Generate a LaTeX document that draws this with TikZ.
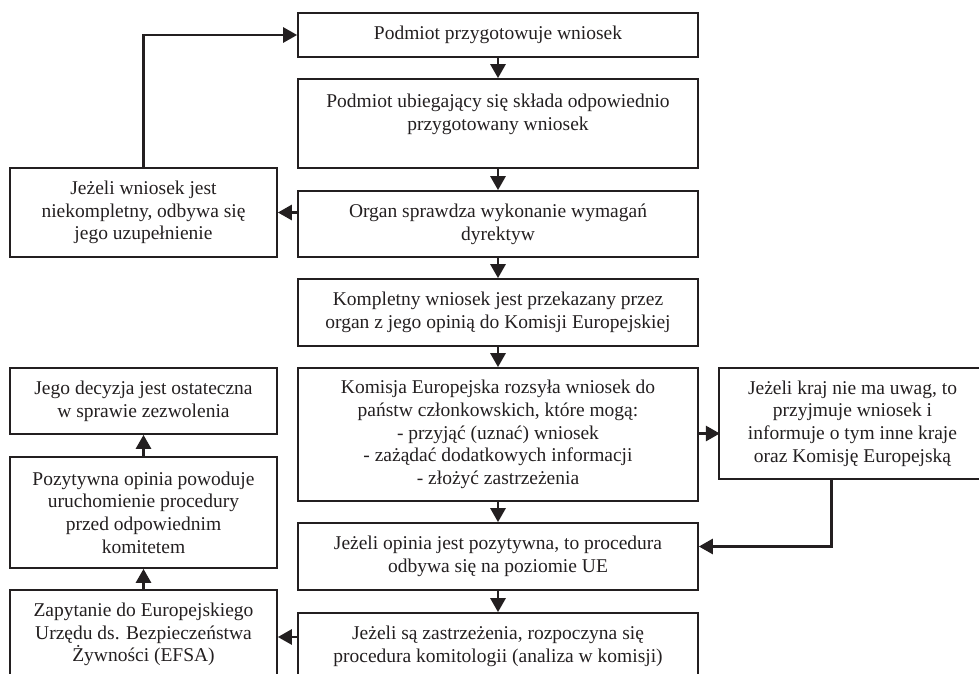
\documentclass[tikz,border=0pt]{standalone}
\usepackage{fontspec}
\setmainfont{Liberation Serif}
\usetikzlibrary{arrows.meta}
\definecolor{ink}{HTML}{231F20}
\begin{document}
\begin{tikzpicture}[x=1pt,y=-1pt,
  box/.style={draw=ink, line width=1.7pt, inner sep=0pt, text=ink,
    font=\fontsize{19.5}{22.7}\selectfont, align=center},
  mainbox/.style={box, minimum width=400pt},
  sidebox/.style={box, minimum width=267pt},
  conn/.style={draw=ink, line width=2.8pt, -{Triangle[length=14pt,width=15pt]}},
]
\useasboundingbox (0,0) rectangle (979,674);
\clip (0,0) rectangle (979,674);

\node[mainbox, minimum height=44pt] (b1) at (498,35) {Podmiot przygotowuje wniosek};
\node[mainbox, minimum height=89pt] (b2) at (498,123.5) {Podmiot ubiegający się składa odpowiednio\\przygotowany wniosek\\\mbox{}};
\node[mainbox, minimum height=66pt] (b3) at (498,224) {Organ sprawdza wykonanie wymagań\\dyrektyw};
\node[mainbox, minimum height=67pt] (b4) at (498,312.5) {Kompletny wniosek jest przekazany przez\\organ z jego opinią do Komisji Europejskiej};
\node[mainbox, minimum height=133pt] (b5) at (498,434.5) {Komisja Europejska rozsyła wniosek do\\państw członkowskich, które mogą:\\- przyjąć (uznać) wniosek\\- zażądać dodatkowych informacji\\- złożyć zastrzeżenia};
\node[mainbox, minimum height=67pt] (b6) at (498,556.5) {Jeżeli opinia jest pozytywna, to procedura\\odbywa się na poziomie UE};
\node[mainbox, minimum height=67pt] (b7) at (498,646.5) {Jeżeli są zastrzeżenia, rozpoczyna się\\procedura komitologii (analiza w komisji)};

\node[sidebox, minimum height=89pt] (l1) at (143.5,212.5) {Jeżeli wniosek jest\\niekompletny, odbywa się\\jego uzupełnienie};
\node[sidebox, minimum height=66pt] (l2) at (143.5,401) {Jego decyzja jest ostateczna\\w sprawie zezwolenia};
\node[sidebox, minimum height=111pt] (l3) at (143.5,512.5) {Pozytywna opinia powoduje\\uruchomienie procedury\\przed odpowiednim\\komitetem};
\node[sidebox, minimum height=89pt] (l4) at (143.5,634.5) {Zapytanie do Europejskiego\\Urzędu ds. Bezpieczeństwa\\Żywności (EFSA)};

\node[sidebox, minimum height=111pt] (r1) at (852.5,423.5) {Jeżeli kraj nie ma uwag, to\\przyjmuje wniosek i\\informuje o tym inne kraje\\oraz Komisję Europejską};

\draw[conn] (b1.south) -- (b2.north);
\draw[conn] (b2.south) -- (b3.north);
\draw[conn] (b3.south) -- (b4.north);
\draw[conn] (b4.south) -- (b5.north);
\draw[conn] (b5.south) -- (b6.north);
\draw[conn] (b6.south) -- (b7.north);

\draw[conn] (b3.west |- l1.east) -- (l1.east);
\draw[conn] (l1.north) |- (b1.west);
\draw[conn] (b5.east |- r1.west) ++(0,10) -- ++(21,0);
\draw[conn] ([xshift=-21pt]r1.south) |- ([yshift=10pt]b6.east);
\draw[conn] (b7.west |- l4.east) ++(0,2.5) -- ([yshift=-2.5pt]l4.east);
\draw[conn] (l4.north) -- (l3.south);
\draw[conn] (l3.north) -- (l2.south);
\end{tikzpicture}
\end{document}
